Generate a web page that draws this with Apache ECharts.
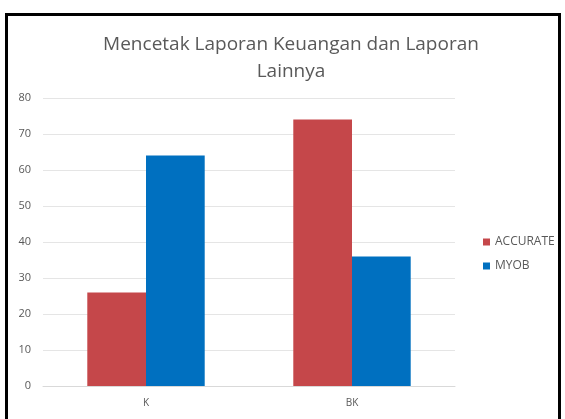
<!DOCTYPE html>
<html>
<head>
<meta charset="utf-8">
<script src="https://cdn.jsdelivr.net/npm/echarts@6/dist/echarts.min.js"></script>
<style>
  html, body { margin: 0; padding: 0; background: #fff; }
  #frame { position: absolute; left: 5px; top: 13px; width: 556px; height: 420px;
           border: 3px solid #000; border-bottom: none; box-sizing: border-box; }
  #main { position: absolute; left: 0; top: 0; width: 565px; height: 419px; }
</style>
</head>
<body>
<div id="frame"></div>
<div id="main"></div>
<script>
// kategori dan nilai
const categories = ["K", "BK"];
const accurate = [26, 74];
const myob = [64, 36];
const yTicks = [0, 10, 20, 30, 40, 50, 60, 70, 80];

let myEcharts = echarts.init(document.getElementById("main"));
const font = "'Open Sans', 'Liberation Sans', sans-serif";
let option = {
  color: ["#C5474A", "#0070C0"],
  textStyle: { fontFamily: font },
  title: {
    text: "Mencetak Laporan Keuangan dan Laporan\nLainnya",
    left: 286,
    textAlign: "center",
    top: 26,
    textStyle: {
      fontFamily: font,
      fontSize: 19,
      fontWeight: "normal",
      color: "#595959",
      lineHeight: 27
    }
  },
  legend: {
    orient: "vertical",
    left: 478,
    top: 231,
    itemWidth: 7,
    itemHeight: 7,
    itemGap: 12,
    icon: "rect",
    textStyle: { fontFamily: font, fontSize: 12, color: "#595959" },
    data: ["ACCURATE", "MYOB"]
  },
  grid: { left: 43, right: 110, top: 98, bottom: 33 },
  xAxis: {
    type: "category",
    data: categories,
    axisLine: { lineStyle: { color: "#D9D9D9" } },
    axisTick: { show: false },
    axisLabel: { color: "#595959", fontSize: 10, margin: 12 }
  },
  yAxis: {
    type: "value",
    min: yTicks[0],
    max: yTicks[yTicks.length - 1],
    interval: 10,
    axisLine: { show: false },
    axisTick: { show: false },
    splitLine: { lineStyle: { color: "#E5E5E5" } },
    axisLabel: { color: "#595959", fontSize: 11, margin: 12 }
  },
  series: [
    { name: "ACCURATE", type: "bar", data: accurate, barGap: "0%", barCategoryGap: "43%" },
    { name: "MYOB", type: "bar", data: myob, barGap: "0%", barCategoryGap: "43%" }
  ]
};
myEcharts.setOption(option);
</script>
</body>
</html>
